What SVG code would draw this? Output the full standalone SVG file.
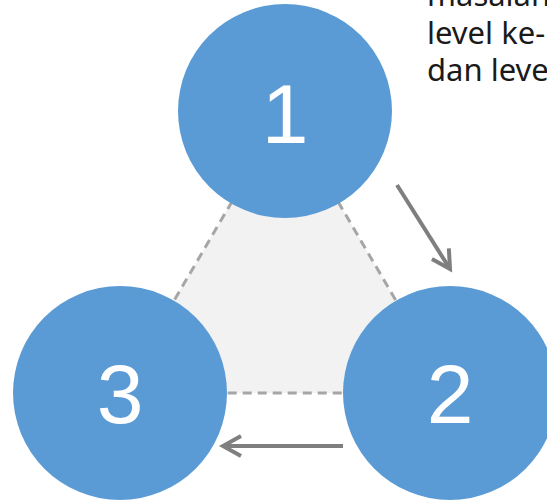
<svg xmlns="http://www.w3.org/2000/svg" width="547" height="500" viewBox="0 0 547 500">
  <style>
    .node { fill: #5B9BD5; }
    .num { fill: #FFFFFF; font-family: "Liberation Sans", Arial, sans-serif; font-size: 84px; text-anchor: middle; }
    .note { fill: #1A1A1A; font-family: "Noto Sans", "Open Sans", sans-serif; font-size: 31px; }
    .flow { stroke: #7F7F7F; stroke-width: 4; fill: none; }
    .zone { fill: #F2F2F2; stroke: #A6A6A6; stroke-width: 3; stroke-dasharray: 9 6; }
  </style>
  <defs>
    <marker id="head" markerUnits="userSpaceOnUse" markerWidth="30" markerHeight="30" viewBox="-22 -15 30 30" refX="0" refY="0" orient="auto">
      <path d="M -18 -10 L 0 0 L -18 10" fill="none" stroke="#7F7F7F" stroke-width="4"/>
    </marker>
  </defs>

  <!-- shared area between the three stages -->
  <polygon class="zone" points="285,111 450,393 120,393"/>

  <!-- note text, running off the top and right edges -->
  <g id="note">
    <text class="note" x="427" y="6">masalah</text>
    <text class="note" x="427" y="43.5">level ke-</text>
    <text class="note" x="427" y="81">dan leve</text>
  </g>

  <g id="connectors">
    <line class="flow" x1="397" y1="185" x2="450" y2="269" marker-end="url(#head)"/>
    <line class="flow" x1="343" y1="446" x2="223" y2="446" marker-end="url(#head)"/>
  </g>

  <g id="node1">
    <circle class="node" cx="285" cy="111" r="107"/>
    <text class="num" x="285" y="143">1</text>
  </g>
  <g id="node2">
    <circle class="node" cx="450" cy="393" r="107"/>
    <text class="num" x="450" y="423">2</text>
  </g>
  <g id="node3">
    <circle class="node" cx="120" cy="393" r="107"/>
    <text class="num" x="120" y="423">3</text>
  </g>
</svg>
